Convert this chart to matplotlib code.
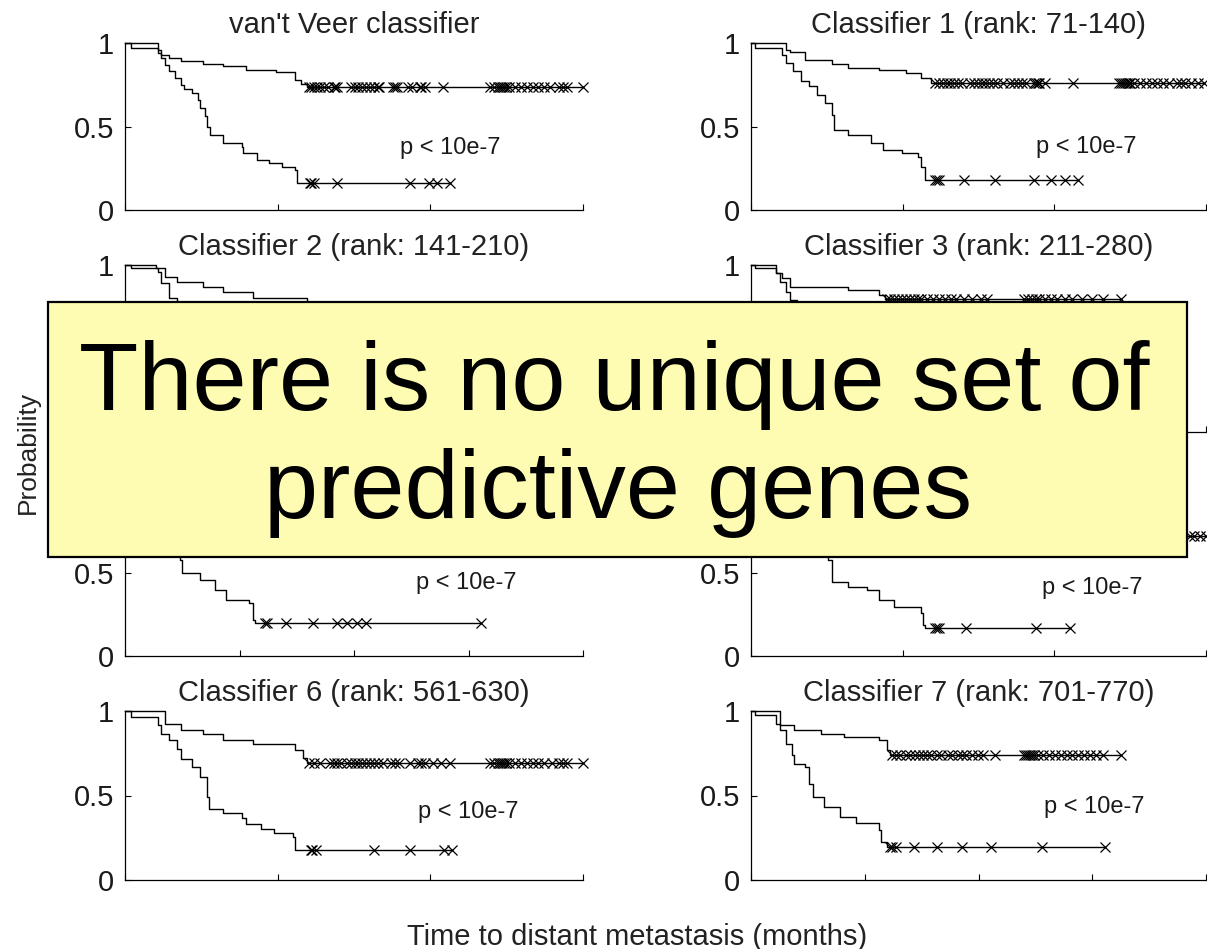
import matplotlib
matplotlib.use('Agg')
import matplotlib.pyplot as plt
from matplotlib.patches import Rectangle

plt.rcParams['font.family'] = ['Liberation Sans', 'DejaVu Sans']

# ---- data (time in arbitrary units, survival prob.) ----
# van't Veer classifier
vv_hi_t = [1.07, 1.19, 1.44, 1.82, 2.57, 3.20, 3.95, 4.95, 5.58, 5.76, 5.95]
vv_hi_s = [0.96, 0.93, 0.91, 0.89, 0.876, 0.86, 0.84, 0.824, 0.78, 0.756, 0.736]
vv_hi_c = [6.01, 6.10, 6.20, 6.30, 6.40, 6.52, 6.64, 6.83, 6.89, 6.95, 7.39, 7.52,
           7.64, 7.77, 7.89, 8.02, 8.15, 8.27, 8.33, 8.77, 8.83, 8.90, 9.27, 9.40,
           9.65, 9.71, 9.84, 10.40, 11.97, 12.09, 12.22, 12.28, 12.34, 12.41,
           12.47, 12.59, 12.78, 12.97, 13.16, 13.35, 13.53, 13.72, 13.91, 14.22,
           14.35, 14.47, 15.0]
vv_lo_t = [0.19, 1.07, 1.19, 1.32, 1.44, 1.63, 1.82, 1.94, 2.19, 2.38, 2.44, 2.63,
           2.69, 2.79, 3.20, 3.82, 3.88, 4.32, 4.70, 5.14, 5.58, 5.64]
vv_lo_s = [0.97, 0.94, 0.91, 0.87, 0.83, 0.79, 0.75, 0.724, 0.70, 0.66, 0.61, 0.56,
           0.50, 0.45, 0.40, 0.38, 0.34, 0.30, 0.28, 0.26, 0.24, 0.16]
vv_lo_c = [6.05, 6.10, 6.18, 6.95, 9.34, 9.96, 10.21, 10.65]

# Classifier 1 (rank: 71-140)
c1_hi_t = [1.15, 1.28, 1.79, 2.68, 3.19, 4.21, 5.11, 5.62, 5.94]
c1_hi_s = [0.96, 0.944, 0.90, 0.876, 0.85, 0.836, 0.82, 0.79, 0.76]
c1_hi_c = [6.06, 6.19, 6.32, 6.45, 6.57, 6.70, 6.83, 6.96, 7.21, 7.34, 7.47, 7.60,
           7.72, 7.85, 7.98, 8.11, 8.30, 8.55, 8.68, 8.81, 8.94, 9.06, 9.32, 9.38,
           9.45, 9.51, 9.70, 10.60, 12.13, 12.19, 12.26, 12.32, 12.38, 12.45,
           12.51, 12.64, 12.83, 13.02, 13.21, 13.40, 13.59, 13.79, 14.04, 14.17,
           14.30, 14.49, 14.74, 14.94]
c1_lo_t = [0.13, 1.02, 1.15, 1.40, 1.66, 1.91, 2.17, 2.43, 2.68, 2.74, 3.19, 3.96,
           4.34, 4.98, 5.49, 5.62, 5.74]
c1_lo_s = [0.97, 0.93, 0.88, 0.83, 0.77, 0.74, 0.69, 0.64, 0.57, 0.48, 0.45, 0.40,
           0.36, 0.34, 0.32, 0.26, 0.18]
c1_lo_c = [6.06, 6.13, 6.19, 7.02, 8.04, 9.32, 9.89, 10.34, 10.79]

# Classifier 2 (rank: 141-210) - lower part hidden behind the box
c2_hi_t = [1.00, 1.32, 1.69, 2.57, 3.20, 4.20, 5.95, 6.30]
c2_hi_s = [0.98, 0.93, 0.90, 0.87, 0.84, 0.80, 0.76, 0.73]
c2_hi_c = [6.5, 6.9, 7.4, 7.9, 8.5, 9.0, 9.6, 10.3, 12.0, 12.4, 12.8, 13.3, 13.9, 14.5, 15.0]
c2_lo_t = [0.19, 1.07, 1.19, 1.44, 1.69, 1.94, 2.44, 2.94, 3.70, 4.70, 5.58, 5.70]
c2_lo_s = [0.98, 0.96, 0.89, 0.80, 0.72, 0.65, 0.55, 0.45, 0.38, 0.30, 0.20, 0.18]
c2_lo_c = [6.0, 6.9, 9.3, 10.4]

# Classifier 3 (rank: 211-280)
c3_hi_t = [1.11, 1.36, 1.70, 4.26, 5.62, 5.87]
c3_hi_s = [0.95, 0.92, 0.87, 0.85, 0.82, 0.795]
c3_hi_c = [5.96, 6.13, 6.30, 6.47, 6.64, 6.81, 6.98, 7.15, 7.32, 7.49, 7.74, 8.00,
           8.26, 8.51, 8.77, 9.02, 9.36, 9.70, 10.13, 10.38, 12.00, 12.17, 12.34,
           12.51, 12.68, 12.94, 13.19, 13.45, 13.79, 14.13, 14.55, 14.98, 15.49, 16.25]
c3_lo_t = [0.17, 1.11, 1.28, 1.53, 1.70, 2.04, 2.55, 3.23, 4.26, 5.62, 6.30]
c3_lo_s = [0.98, 0.95, 0.90, 0.84, 0.79, 0.70, 0.60, 0.50, 0.40, 0.30, 0.20]
c3_lo_c = [6.4, 8.0, 11.0, 14.0]

# row 3, left (title hidden behind the box)
c4_hi_t = [1.3, 2.0, 3.0, 4.0, 5.5, 6.0]
c4_hi_s = [0.95, 0.90, 0.87, 0.84, 0.78, 0.73]
c4_hi_c = [6.3, 6.8, 7.4, 8.0, 8.7, 9.5, 10.2, 12.0, 12.6, 13.3, 14.1, 15.0, 16.2]
c4_lo_t = [0.3, 1.5, 1.9, 2.1, 2.3, 2.42, 2.51, 3.26, 3.93, 4.43, 5.43, 5.60, 5.68]
c4_lo_s = [0.98, 0.90, 0.80, 0.70, 0.62, 0.575, 0.50, 0.455, 0.395, 0.335, 0.317, 0.216, 0.198]
c4_lo_c = [6.10, 6.18, 7.02, 8.19, 9.27, 9.69, 10.11, 10.53, 15.54]

# row 3, right (title hidden behind the box)
c5_hi_t = [1.2, 1.6, 2.5, 3.5, 4.8, 5.9]
c5_hi_s = [0.95, 0.91, 0.88, 0.85, 0.80, 0.72]
c5_hi_c = [6.2, 6.6, 7.1, 7.6, 8.2, 8.9, 9.6, 10.4, 12.1, 12.6, 13.2, 13.8, 14.47, 14.6, 14.8, 15.0]
c5_lo_t = [0.15, 1.1, 1.4, 1.7, 2.0, 2.3, 2.55, 2.68, 3.19, 3.83, 4.21, 4.72, 5.62, 5.68, 5.74]
c5_lo_s = [0.98, 0.93, 0.86, 0.78, 0.70, 0.63, 0.575, 0.445, 0.415, 0.395, 0.335, 0.295, 0.257, 0.186, 0.168]
c5_lo_c = [6.06, 6.13, 6.19, 7.09, 9.38, 10.53]

# Classifier 6 (rank: 561-630)
c6_hi_t = [1.32, 1.82, 2.57, 3.20, 4.20, 5.58, 5.83, 5.95]
c6_hi_s = [0.925, 0.886, 0.866, 0.827, 0.807, 0.768, 0.724, 0.693]
c6_hi_c = [6.01, 6.20, 6.39, 6.70, 6.83, 6.95, 7.08, 7.27, 7.39, 7.52, 7.64, 7.77,
           7.89, 8.02, 8.15, 8.27, 8.46, 8.71, 8.83, 8.96, 9.34, 9.59, 9.71, 9.84,
           10.09, 10.34, 10.65, 11.97, 12.09, 12.22, 12.28, 12.34, 12.41, 12.47,
           12.59, 12.78, 12.97, 13.16, 13.35, 13.53, 13.72, 13.97, 14.22, 14.35,
           14.47, 15.0]
c6_lo_t = [0.19, 1.07, 1.19, 1.44, 1.69, 1.82, 2.19, 2.44, 2.69, 2.76, 3.20, 3.82,
           3.95, 4.45, 4.89, 5.51, 5.58]
c6_lo_s = [0.965, 0.915, 0.866, 0.827, 0.778, 0.718, 0.669, 0.610, 0.492, 0.423,
           0.394, 0.364, 0.331, 0.299, 0.276, 0.256, 0.177]
c6_lo_c = [6.08, 6.14, 6.27, 8.15, 9.34, 10.46, 10.71]

# Classifier 7 (rank: 701-770)
c7_hi_t = [1.28, 1.87, 3.06, 4.09, 5.62, 5.96, 6.09]
c7_hi_s = [0.915, 0.886, 0.866, 0.846, 0.827, 0.768, 0.738]
c7_hi_c = [6.21, 6.38, 6.55, 6.81, 6.98, 7.23, 7.40, 7.57, 7.74, 7.91, 8.17, 8.34,
           8.68, 8.85, 9.11, 9.28, 9.45, 9.70, 9.96, 10.21, 10.72, 12.00, 12.09,
           12.17, 12.26, 12.34, 12.43, 12.60, 12.85, 13.11, 13.36, 13.62, 13.87,
           14.13, 14.38, 14.64, 14.89, 15.15, 15.49, 16.25]
c7_lo_t = [0.17, 1.11, 1.28, 1.53, 1.79, 1.87, 2.38, 2.55, 2.72, 3.23, 3.91, 4.60,
           5.62, 5.70, 5.96]
c7_lo_s = [0.974, 0.925, 0.886, 0.807, 0.738, 0.689, 0.669, 0.571, 0.492, 0.433,
           0.374, 0.335, 0.295, 0.226, 0.197]
c7_lo_c = [6.13, 6.21, 6.38, 7.15, 8.17, 9.28, 10.55, 12.77, 15.57]

titles = ["van't Veer classifier", 'Classifier 1 (rank: 71-140)',
          'Classifier 2 (rank: 141-210)', 'Classifier 3 (rank: 211-280)',
          '', '',
          'Classifier 6 (rank: 561-630)', 'Classifier 7 (rank: 701-770)']
x_max = [15, 15, 15, 20, 20, 15, 15, 20]
# y tick labels per panel ('' where the callout box covers them)
y_labels = [['0', '0.5', '1'], ['0', '0.5', '1'],
            ['', '', '1'], ['', '', '1'],
            ['0', '0.5', ''], ['0', '0.5', ''],
            ['0', '0.5', '1'], ['0', '0.5', '1']]
p_label = 'p < 10e-7'
# None where the p-value is hidden behind the box
p_pos = [(0.60, 0.37), (0.626, 0.38), None, None,
         (0.635, 0.44), (0.64, 0.41), (0.64, 0.40), (0.644, 0.43)]

curves = [
    ((vv_hi_t, vv_hi_s, vv_hi_c), (vv_lo_t, vv_lo_s, vv_lo_c)),
    ((c1_hi_t, c1_hi_s, c1_hi_c), (c1_lo_t, c1_lo_s, c1_lo_c)),
    ((c2_hi_t, c2_hi_s, c2_hi_c), (c2_lo_t, c2_lo_s, c2_lo_c)),
    ((c3_hi_t, c3_hi_s, c3_hi_c), (c3_lo_t, c3_lo_s, c3_lo_c)),
    ((c4_hi_t, c4_hi_s, c4_hi_c), (c4_lo_t, c4_lo_s, c4_lo_c)),
    ((c5_hi_t, c5_hi_s, c5_hi_c), (c5_lo_t, c5_lo_s, c5_lo_c)),
    ((c6_hi_t, c6_hi_s, c6_hi_c), (c6_lo_t, c6_lo_s, c6_lo_c)),
    ((c7_hi_t, c7_hi_s, c7_hi_c), (c7_lo_t, c7_lo_s, c7_lo_c)),
]

W, H = 1207, 949
rows_px = [(43, 210), (265, 432), (489, 656), (711, 880)]
cols_px = [(125, 583), (751, 1206)]
ink = '#1a1a1a'


def km(ax, t, s, cens):
    t_end = max(t[-1], cens[-1])
    xs = [0] + list(t) + [t_end]
    ys = [1] + list(s) + [s[-1]]
    ax.step(xs, ys, where='post', color='black', lw=1.0, clip_on=False)
    ax.plot(cens, [s[-1]] * len(cens), ls='none', marker='x', ms=6.5, mew=0.9,
            color='black', clip_on=False)


fig = plt.figure(figsize=(W / 100, H / 100), dpi=100)

for i, (hi, lo) in enumerate(curves):
    top, bot = rows_px[i // 2]
    left, right = cols_px[i % 2]
    ax = fig.add_axes([left / W, 1 - bot / H, (right - left) / W, (bot - top) / H])
    km(ax, *hi)
    km(ax, *lo)
    ax.set_xlim(0, x_max[i])
    ax.set_ylim(0, 1)
    ax.set_xticks(range(0, x_max[i] + 1, 5))
    ax.set_xticklabels([])
    ax.set_yticks([0, 0.5, 1])
    ax.set_yticklabels(y_labels[i])
    ax.tick_params(direction='in', length=4, width=0.8, labelsize=21,
                   labelcolor=ink, pad=8)
    for side in ['top', 'right']:
        ax.spines[side].set_visible(False)
    for side in ['left', 'bottom']:
        ax.spines[side].set_linewidth(0.9)
    if titles[i]:
        ax.set_title(titles[i], fontsize=21, color='#222222', pad=7)
    if p_pos[i]:
        ax.text(p_pos[i][0], p_pos[i][1], p_label, transform=ax.transAxes,
                fontsize=17, color=ink, ha='left', va='center')

fig.text(28 / W, 1 - 452 / H, 'Probability', rotation=90, fontsize=19,
         color='#222222', ha='center', va='center')
fig.text(637 / W, 1 - 937 / H, 'Time to distant metastasis (months)', fontsize=21,
         color='#222222', ha='center', va='center')

# yellow callout box on top of the middle rows
box = Rectangle((48 / W, 1 - 557 / H), (1187 - 48) / W, (557 - 302) / H,
                transform=fig.transFigure, facecolor='#FEFCB2', edgecolor='black',
                linewidth=1.6, zorder=10)
fig.add_artist(box)
fig.text(614 / W, 1 - 410 / H, 'There is no unique set of', fontsize=70,
         ha='center', va='baseline', color='black', zorder=11)
fig.text(618 / W, 1 - 518 / H, 'predictive genes', fontsize=70,
         ha='center', va='baseline', color='black', zorder=11)

fig.savefig('out.png', dpi=100)
